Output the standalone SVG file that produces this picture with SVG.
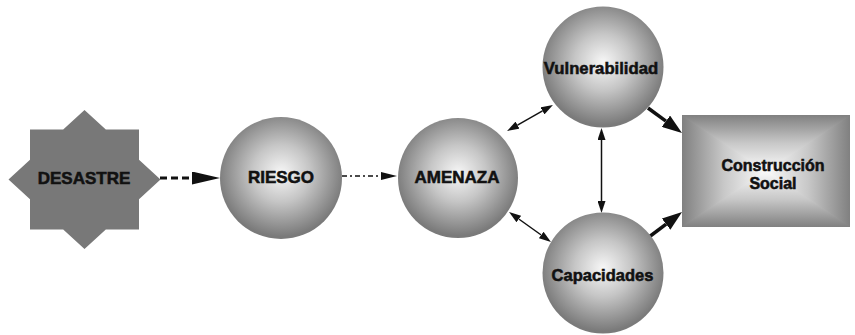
<svg xmlns="http://www.w3.org/2000/svg" width="855" height="335" viewBox="0 0 855 335">
  <style>
    .lbl { font-family: "Liberation Sans", Arial, sans-serif; font-weight: bold; fill: #111; stroke: #111; stroke-width: 0.55; text-anchor: middle; }
    .ball { fill: url(#ballGrad); }
    .thin { stroke: #111; stroke-width: 1.5; fill: none; }
    .thick { stroke: #111; stroke-width: 3.5; fill: none; }
  </style>
  <defs>
    <radialGradient id="ballGrad" cx="50%" cy="46%" r="52%">
      <stop offset="0" stop-color="#f7f7f7"/>
      <stop offset="0.45" stop-color="#c6c6c6"/>
      <stop offset="1" stop-color="#7a7a7a"/>
    </radialGradient>
    <!-- rectangular "path" gradient built from four triangles -->
    <linearGradient id="rgL" gradientUnits="userSpaceOnUse" x1="682" y1="0" x2="766" y2="0">
      <stop offset="0" stop-color="#808080"/><stop offset="0.5" stop-color="#c8c8c8"/><stop offset="1" stop-color="#fbfbfb"/>
    </linearGradient>
    <linearGradient id="rgR" gradientUnits="userSpaceOnUse" x1="850" y1="0" x2="766" y2="0">
      <stop offset="0" stop-color="#808080"/><stop offset="0.5" stop-color="#c8c8c8"/><stop offset="1" stop-color="#fbfbfb"/>
    </linearGradient>
    <linearGradient id="rgT" gradientUnits="userSpaceOnUse" x1="0" y1="115" x2="0" y2="171">
      <stop offset="0" stop-color="#808080"/><stop offset="0.5" stop-color="#c8c8c8"/><stop offset="1" stop-color="#fbfbfb"/>
    </linearGradient>
    <linearGradient id="rgB" gradientUnits="userSpaceOnUse" x1="0" y1="227" x2="0" y2="171">
      <stop offset="0" stop-color="#808080"/><stop offset="0.5" stop-color="#c8c8c8"/><stop offset="1" stop-color="#fbfbfb"/>
    </linearGradient>
    <clipPath id="boxClip">
      <rect x="682" y="115" width="168" height="112"/>
    </clipPath>
    <marker id="headBig" markerUnits="userSpaceOnUse" markerWidth="28" markerHeight="14" refX="0" refY="6.5" orient="auto">
      <path d="M0,0 L28,6.5 L0,13 Z" fill="#111"/>
    </marker>
    <marker id="headSmall" markerUnits="userSpaceOnUse" markerWidth="16" markerHeight="8" refX="0" refY="4" orient="auto">
      <path d="M0,0 L16,4 L0,8 Z" fill="#111"/>
    </marker>
    <marker id="headThin" markerUnits="userSpaceOnUse" markerWidth="12" markerHeight="8" refX="0" refY="4" orient="auto-start-reverse">
      <path d="M0,0 L12,4 L0,8 Z" fill="#111"/>
    </marker>
    <marker id="headThick" markerUnits="userSpaceOnUse" markerWidth="20" markerHeight="14" refX="0" refY="7" orient="auto">
      <path d="M0,0 L20,7 L0,14 Z" fill="#111"/>
    </marker>
  </defs>

  <g id="connectors">
    <line x1="160" y1="178" x2="192" y2="178" stroke="#111" stroke-width="3" stroke-dasharray="7 4" marker-end="url(#headBig)"/>
    <line x1="342" y1="176" x2="381" y2="176" stroke="#111" stroke-width="1.5" stroke-dasharray="5 3 2 3" marker-end="url(#headSmall)"/>
    <line class="thin" x1="517.5" y1="125.1" x2="542.5" y2="110.9" marker-start="url(#headThin)" marker-end="url(#headThin)"/>
    <line class="thin" x1="518.8" y1="219" x2="541.2" y2="235" marker-start="url(#headThin)" marker-end="url(#headThin)"/>
    <line class="thin" x1="601.5" y1="140" x2="601.5" y2="201" marker-start="url(#headThin)" marker-end="url(#headThin)"/>
    <line class="thick" x1="648" y1="108" x2="665.9" y2="121.2" marker-end="url(#headThick)"/>
    <line class="thick" x1="649" y1="237" x2="666.1" y2="224.1" marker-end="url(#headThick)"/>
  </g>

  <g id="desastre">
    <polygon fill="#787878" points="84.5,110 105.8,129.5 139,129.5 139,159.8 160.5,179.5 139,199.2 139,229.5 105.8,229.5 84.5,249 63.2,229.5 30,229.5 30,199.2 8.5,179.5 30,159.8 30,129.5 63.2,129.5"/>
    <text class="lbl" x="84" y="184" font-size="17">DESASTRE</text>
  </g>

  <g id="riesgo">
    <circle class="ball" cx="281" cy="178" r="61"/>
    <text class="lbl" x="281" y="183" font-size="17">RIESGO</text>
  </g>

  <g id="amenaza">
    <circle class="ball" cx="458" cy="178" r="60"/>
    <text class="lbl" x="457" y="183" font-size="17">AMENAZA</text>
  </g>

  <g id="vulnerabilidad">
    <circle class="ball" cx="603" cy="67" r="60.5"/>
    <text class="lbl" x="601" y="74" font-size="16.7">Vulnerabilidad</text>
  </g>

  <g id="capacidades">
    <circle class="ball" cx="603" cy="273" r="60.5"/>
    <text class="lbl" x="602.5" y="281" font-size="16.5">Capacidades</text>
  </g>

  <g id="construccion-social">
    <g clip-path="url(#boxClip)">
      <polygon fill="url(#rgL)" stroke="url(#rgL)" stroke-width="1.2" points="682,115 766,171 682,227"/>
      <polygon fill="url(#rgR)" stroke="url(#rgR)" stroke-width="1.2" points="850,115 766,171 850,227"/>
      <polygon fill="url(#rgT)" stroke="url(#rgT)" stroke-width="1.2" points="682,115 850,115 766,171"/>
      <polygon fill="url(#rgB)" stroke="url(#rgB)" stroke-width="1.2" points="682,227 850,227 766,171"/>
    </g>
    <text class="lbl" x="773" y="171" font-size="16">Construcción</text>
    <text class="lbl" x="773" y="189" font-size="16">Social</text>
  </g>
</svg>
